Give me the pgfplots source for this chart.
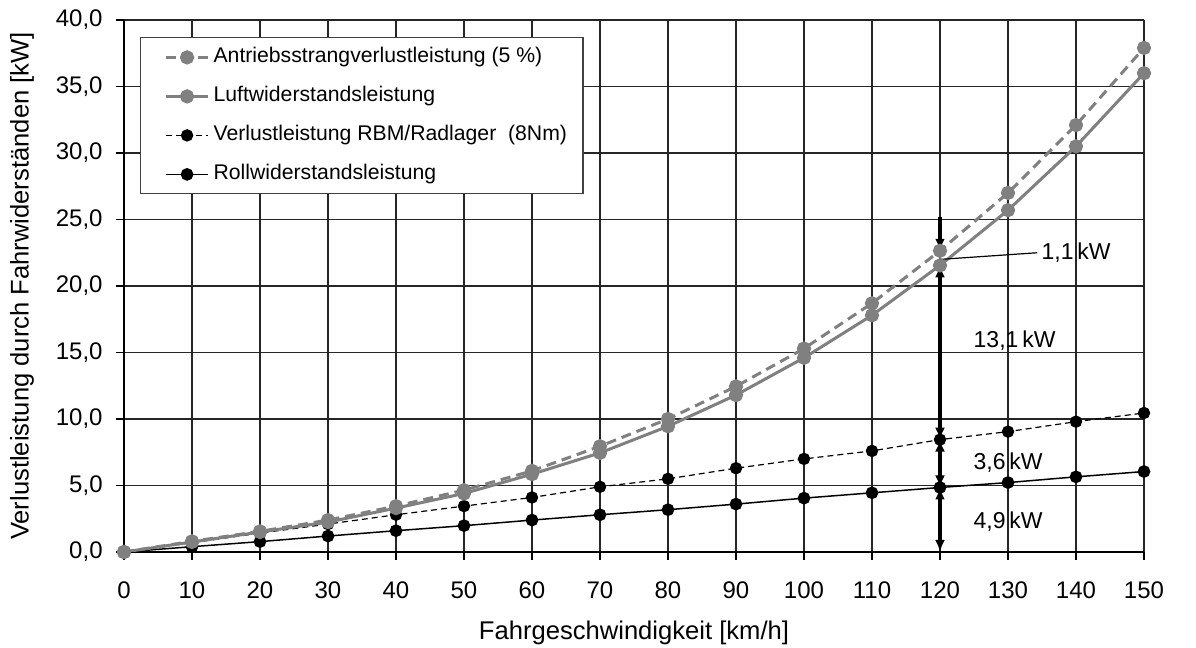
\documentclass[border=0pt]{standalone}
\usepackage{pgfplots}
\pgfplotsset{compat=1.18}
\usepackage{fontspec}
\setmainfont{Liberation Sans}
\usetikzlibrary{arrows.meta}
\definecolor{grau}{RGB}{128,128,128}
\begin{document}
\begin{tikzpicture}[font=\fontsize{12}{14}\selectfont]
\begin{axis}[
    scale only axis,
    width=510pt, height=266pt,
    xmin=0, xmax=150, ymin=0, ymax=40,
    xtick={0,10,...,150},
    ytick={0,5,...,40},
    grid=major,
    major grid style={black!85, line width=0.6pt},
    axis lines*=left,
    axis line style={black, line width=1pt},
    tick align=outside,
    tick pos=left,
    major tick length=4pt,
    tick style={black, line width=0.6pt},
    yticklabel style={/pgf/number format/.cd, fixed, fixed zerofill, precision=1, use comma, assume math mode=true,
        /tikz/.cd, anchor=east, inner sep=0pt, xshift=-6.5pt},
    xticklabel style={/pgf/number format/assume math mode=true, anchor=center, inner sep=0pt, yshift=-15pt},
    xlabel={Fahrgeschwindigkeit [km/h]},
    ylabel={Verlustleistung durch Fahrwiderständen [kW]},
    label style={font=\fontsize{12.8}{15}\selectfont},
    xlabel style={at={([yshift=-40.5pt]rel axis cs:0.5,0)}, anchor=center},
    ylabel style={at={([xshift=-51pt]rel axis cs:0,0.5)}, anchor=center},
    legend reversed,
    legend image code/.code={\path (-6pt,0pt); \draw[mark repeat=2, mark phase=2, #1] plot coordinates {(0pt,0pt) (10.5pt,0pt) (21pt,0pt)};},
    legend style={at={(axis cs:2.35,38.7)}, anchor=north west, draw=black!75, line width=0.6pt, fill=white,
        inner xsep=6pt, inner ysep=2.5pt, row sep=5pt,
        nodes={inner sep=2pt, text height=8pt, text depth=2.5pt},
        font=\fontsize{10.6}{12.5}\selectfont},
    legend cell align=left,
]
\addplot[black, line width=0.75pt, mark=*, mark size=2.8pt, mark options={solid}] coordinates {
(0,0) (10,0.4) (20,0.78) (30,1.2) (40,1.6) (50,1.98) (60,2.4) (70,2.8) (80,3.18)
(90,3.6) (100,4.05) (110,4.45) (120,4.85) (130,5.22) (140,5.65) (150,6.05)};
\addlegendentry{Rollwiderstandsleistung}
\addplot[black, line width=0.6pt, densely dashed, mark=*, mark size=2.8pt, mark options={solid}] coordinates {
(0,0) (10,0.7) (20,1.42) (30,2.1) (40,2.8) (50,3.45) (60,4.1) (70,4.9) (80,5.5)
(90,6.3) (100,7.0) (110,7.6) (120,8.45) (130,9.05) (140,9.8) (150,10.45)};
\addlegendentry{Verlustleistung RBM/Radlager\ \ (8Nm)}
\addplot[grau, line width=1.5pt, mark=*, mark size=2.8pt, mark options={solid}] coordinates {
(0,0) (10,0.75) (20,1.5) (30,2.25) (40,3.3) (50,4.4) (60,5.85) (70,7.45) (80,9.45)
(90,11.8) (100,14.6) (110,17.8) (120,21.55) (130,25.7) (140,30.5) (150,36.0)};
\addlegendentry{Luftwiderstandsleistung}
\addplot[grau, line width=1.5pt, dash pattern=on 5pt off 3pt, mark=*, mark size=2.8pt, mark options={solid}] coordinates {
(0,0) (10,0.8) (20,1.55) (30,2.4) (40,3.45) (50,4.65) (60,6.1) (70,7.95) (80,10.0)
(90,12.45) (100,15.3) (110,18.7) (120,22.65) (130,27.0) (140,32.1) (150,37.9)};
\addlegendentry{Antriebsstrangverlustleistung (5 \%)}

% Bemaßung bei 120 km/h
\draw[black, line width=1.6pt, {Latex[length=6pt,width=5pt]}-{Latex[length=6pt,width=5pt]}] (axis cs:120,0) -- (axis cs:120,4.85);
\draw[black, line width=1.6pt, {Latex[length=6pt,width=5pt]}-{Latex[length=6pt,width=5pt]}] (axis cs:120,4.85) -- (axis cs:120,8.45);
\draw[black, line width=1.6pt, {Latex[length=6pt,width=5pt]}-{Latex[length=6pt,width=5pt]}] (axis cs:120,8.45) -- (axis cs:120,21.55);
\draw[black, line width=1.6pt, -{Latex[length=6pt,width=5pt]}] (axis cs:120,25.2) -- (axis cs:120,22.65);
\draw[black, line width=0.6pt] (axis cs:120,22.0) -- (axis cs:134.3,22.5);
\node[anchor=west, inner sep=1pt, font=\fontsize{11.5}{13}\selectfont] at (axis cs:134.6,22.5) {1,1\,kW};
\node[anchor=west, inner sep=1pt, font=\fontsize{11.5}{13}\selectfont] at (axis cs:124.6,15.9) {13,1\,kW};
\node[anchor=west, inner sep=1pt, font=\fontsize{11.5}{13}\selectfont] at (axis cs:124.6,6.7) {3,6\,kW};
\node[anchor=west, inner sep=1pt, font=\fontsize{11.5}{13}\selectfont] at (axis cs:124.6,2.25) {4,9\,kW};
\end{axis}
\pgfresetboundingbox
\path[use as bounding box] ([shift={(-62pt,-48pt)}]current axis.south west) rectangle ++(598pt,324pt);
\end{tikzpicture}
\end{document}
